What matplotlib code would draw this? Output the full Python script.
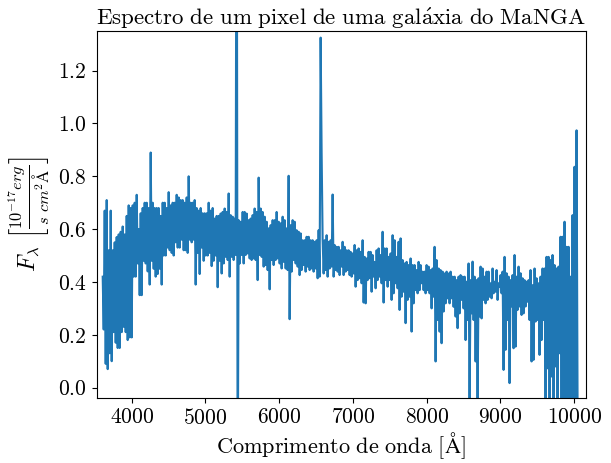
import matplotlib
matplotlib.use("Agg")
import matplotlib.pyplot as plt
import numpy as np

plt.rcParams["font.family"] = "serif"
plt.rcParams["font.serif"] = ["cmr10", "DejaVu Serif"]
plt.rcParams["mathtext.fontset"] = "cm"
plt.rcParams["axes.unicode_minus"] = False
plt.rcParams["axes.formatter.use_mathtext"] = True

# spectrum of one spaxel: upper and lower flux values along the wavelength grid
# (1e-17 erg / s / cm^2 / A), blue -> near infrared
flux_top = [
    # 3600 - 5180 A
    0.42, 0.67, 0.71, 0.52, 0.67, 0.52, 0.55, 0.57, 0.58, 0.59,
    0.61, 0.58, 0.65, 0.69, 0.68, 0.69, 0.70, 0.73, 0.60, 0.66,
    0.68, 0.70, 0.70, 0.68, 0.89, 0.70, 0.68, 0.68, 0.68, 0.65,
    0.70, 0.70, 0.68, 0.74, 0.69, 0.70, 0.70, 0.73, 0.72, 0.71,
    0.71, 0.70, 0.72, 0.80, 0.70, 0.70, 0.71, 0.68, 0.67, 0.68,
    0.66, 0.66, 0.66, 0.70, 0.67, 0.68, 0.64, 0.65, 0.65,
    # 5200 - 6830 A
    0.659, 0.665, 0.678, 0.665, 0.735, 0.653, 0.647, 0.640, 2.5, 0.634,
    0.628, 0.665, 0.665, 0.659, 0.634, 0.640, 0.653, 0.678, 0.665, 0.795,
    0.678, 0.665, 0.647, 0.628, 0.603, 0.615, 0.634, 0.634, 0.665, 0.628,
    0.622, 0.647, 0.634, 0.603, 0.802, 0.615, 0.634, 0.628, 0.596, 0.590,
    0.584, 0.558, 0.558, 0.571, 0.571, 0.558, 0.558, 0.552, 0.558, 0.596,
    1.325, 0.558, 0.558, 0.577, 0.552, 0.558, 0.731, 0.540, 0.533, 0.533,
    0.520,
    # 6860 - 8490 A
    0.552, 0.533, 0.520, 0.520, 0.514, 0.508, 0.540, 0.520, 0.527, 0.514,
    0.558, 0.495, 0.489, 0.514, 0.514, 0.502, 0.476, 0.520, 0.527, 0.502,
    0.590, 0.527, 0.527, 0.495, 0.508, 0.577, 0.558, 0.495, 0.552, 0.565,
    0.483, 0.470, 0.476, 0.464, 0.489, 0.464, 0.464, 0.445, 0.476, 0.464,
    0.439, 0.439, 0.464, 0.458, 0.445, 0.451, 0.533, 0.483, 0.451, 0.445,
    0.439, 0.432, 0.439, 0.432, 0.439, 0.420, 0.420, 0.407, 0.420, 0.426,
    0.420,
    # 8510 - 10030 A
    0.420, 0.401, 0.470, 0.407, 0.477, 0.420, 0.407, 0.414, 0.458, 0.451,
    0.420, 0.439, 0.439, 0.395, 0.451, 0.401, 0.445, 0.395, 0.426, 0.439,
    0.495, 0.433, 0.420, 0.407, 0.426, 0.502, 0.420, 0.458, 0.433, 0.414,
    0.407, 0.401, 0.407, 0.445, 0.388, 0.451, 0.414, 0.395, 0.420, 0.451,
    0.451, 0.495, 0.495, 0.483, 0.502, 0.464, 0.451, 0.458, 0.571, 0.571,
    0.628, 0.533, 0.533, 0.420, 0.653, 0.836, 0.974,
]
flux_bottom = [
    0.22, 0.09, 0.07, 0.13, 0.10, 0.21, 0.17, 0.15, 0.15, 0.21,
    0.23, 0.21, 0.18, 0.19, 0.19, 0.42, 0.42, 0.47, 0.35, 0.35,
    0.48, 0.47, 0.44, 0.39, 0.48, 0.45, 0.42, 0.43, 0.45, 0.39,
    0.50, 0.50, 0.53, 0.52, 0.51, 0.50, 0.55, 0.53, 0.53, 0.56,
    0.52, 0.52, 0.51, 0.56, 0.55, 0.56, 0.39, 0.51, 0.43, 0.53,
    0.48, 0.50, 0.50, 0.51, 0.46, 0.48, 0.50, 0.38, 0.48,
    0.432, 0.470, 0.495, 0.483, 0.420, 0.495, 0.483, 0.502, -0.5, 0.470,
    0.502, 0.470, 0.502, 0.508, 0.489, 0.483, 0.489, 0.483, 0.407, 0.502,
    0.495, 0.458, 0.464, 0.445, 0.372, 0.483, 0.464, 0.483, 0.489, 0.470,
    0.451, 0.476, 0.451, 0.445, 0.259, 0.439, 0.483, 0.470, 0.458, 0.426,
    0.445, 0.464, 0.439, 0.458, 0.445, 0.451, 0.439, 0.451, 0.414, 0.420,
    0.888, 0.432, 0.445, 0.420, 0.451, 0.458, 0.420, 0.445, 0.439, 0.426,
    0.458,
    0.426, 0.439, 0.445, 0.426, 0.420, 0.432, 0.382, 0.407, 0.414, 0.395,
    0.322, 0.319, 0.407, 0.414, 0.363, 0.420, 0.376, 0.407, 0.420, 0.395,
    0.322, 0.407, 0.382, 0.407, 0.332, 0.357, 0.395, 0.376, 0.294, 0.344,
    0.363, 0.244, 0.332, 0.344, 0.212, 0.319, 0.369, 0.357, 0.369, 0.395,
    0.369, 0.357, 0.369, 0.357, 0.300, 0.344, 0.099, 0.256, 0.212, 0.168,
    0.288, 0.319, 0.338, 0.319, 0.338, 0.306, 0.269, 0.225, 0.281, 0.332,
    0.300,
    0.180, 0.256, -0.05, 0.281, 0.256, 0.099, -0.05, 0.269, 0.262, 0.332,
    0.319, 0.332, 0.344, 0.338, 0.357, 0.363, 0.332, 0.382, 0.357, 0.067,
    0.143, 0.256, 0.017, 0.307, 0.149, 0.155, 0.294, 0.307, 0.275, 0.281,
    0.307, 0.325, 0.256, 0.099, 0.105, 0.250, 0.256, 0.124, 0.180, 0.256,
    -0.05, 0.073, -0.05, 0.042, -0.05, 0.080, -0.05, 0.130, -0.05, -0.05,
    -0.05, -0.05, -0.05, -0.05, -0.05, -0.05, -0.05,
]

wave = np.linspace(3606.5, 10031.6, len(flux_top))
step = wave[1] - wave[0]

# alternate top/bottom samples so the noisy trace is drawn as one line
lam = np.empty(2 * len(wave))
flux = np.empty(2 * len(wave))
lam[0::2] = wave
lam[1::2] = wave + step / 2
flux[0::2] = flux_top
flux[1::2] = flux_bottom

fig = plt.figure(figsize=(6.11, 4.63), dpi=100)
ax = fig.add_axes([0.158, 0.140, 0.801, 0.793])
ax.plot(lam, flux, color="#1f77b4", lw=1.5)

ax.set_xlim(3523, 10159)
ax.set_ylim(-0.04, 1.35)
ax.set_xticks([4000, 5000, 6000, 7000, 8000, 9000, 10000])
ax.set_yticks([0.0, 0.2, 0.4, 0.6, 0.8, 1.0, 1.2])
ax.tick_params(labelsize=15.5)

ax.set_title(r"$\mathrm{Espectro\ de\ um\ pixel\ de\ uma\ gal\acute{a}xia\ do\ MaNGA}$",
             fontsize=16.5, pad=4)
ax.set_xlabel(r"$\mathrm{Comprimento\ de\ onda\ [\AA]}$", fontsize=16, labelpad=2)
ax.set_ylabel(r"$F_\lambda\ \left[\frac{10^{-17}erg}{s\ cm^2\mathrm{\AA}}\right]$",
              fontsize=17, labelpad=4)

fig.savefig("out.png", dpi=100)
